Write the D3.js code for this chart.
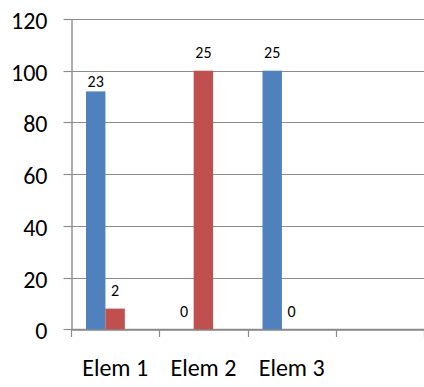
<!DOCTYPE html>
<html>
<head>
<meta charset="utf-8">
<script src="https://cdn.jsdelivr.net/npm/d3@7"></script>
<style>
  html, body { margin: 0; padding: 0; background: #fff; }
  svg { display: block; font-family: Carlito, Calibri, Lato, sans-serif; }
</style>
</head>
<body>
<svg id="chart" width="424" height="387"></svg>
<script>
// Categories (the fourth slot is left empty on purpose)
const categories = ["Elem 1", "Elem 2", "Elem 3", ""];
// Series: bar heights in percent and the counts shown above the bars
const seriesNames = ["S1", "S2", "S3"];
const s1Percent = [92, 0, 100];
const s2Percent = [8, 100, 0];
const s1Counts = [23, 0, 25];
const s2Counts = [2, 25, 0];
const yTicks = [0, 20, 40, 60, 80, 100, 120];

const colors = { S1: "#4F81BD", S2: "#C0504D", S3: "#9BBB59" };
const gridColor = "#8c8c8c";

const svg = d3.select("#chart");
const plotLeft = 71, plotRight = 424, plotTop = 19, plotBottom = 329.3;

const y = d3.scaleLinear().domain([0, 120]).range([plotBottom, plotTop]);
const x = d3.scaleBand().domain(categories).range([plotLeft, plotRight]).padding(0);
const step = x.bandwidth();
const gap = step * 0.17;
const x1 = d3.scaleBand().domain(seriesNames).range([gap, step - gap]).padding(0);

// Horizontal gridlines
svg.append("g").selectAll("line").data(yTicks).join("line")
  .attr("x1", plotLeft).attr("x2", plotRight)
  .attr("y1", d => Math.round(y(d)) + 0.5).attr("y2", d => Math.round(y(d)) + 0.5)
  .attr("stroke", gridColor).attr("stroke-width", d => (d === 0 ? 1.6 : 1));

// Y axis with tick labels
const yAxis = svg.append("g").attr("transform", `translate(${plotLeft + 0.5},0)`)
  .call(d3.axisLeft(y).tickValues(yTicks).tickSize(8).tickSizeOuter(0).tickPadding(16));
yAxis.select(".domain").attr("stroke", gridColor).attr("stroke-width", 1.4);
yAxis.selectAll(".tick line").attr("stroke", gridColor).attr("stroke-width", 1.2);
yAxis.selectAll(".tick").attr("transform", d => `translate(0,${Math.round(y(d)) + 0.5})`);
yAxis.selectAll(".tick text").attr("font-size", 24).attr("fill", "#000")
  .attr("font-family", "Carlito, Calibri, Lato, sans-serif").attr("dy", "0.4em");

// X axis: baseline, boundary ticks and centred category labels
const xAxis = svg.append("g").attr("transform", `translate(0,${Math.round(plotBottom) + 0.5})`)
  .call(d3.axisBottom(x).tickSize(0).tickPadding(29).tickSizeOuter(0));
xAxis.select(".domain").attr("stroke", gridColor).attr("stroke-width", 1.6);
xAxis.selectAll(".tick text").attr("font-size", 24).attr("fill", "#000")
  .attr("font-family", "Carlito, Calibri, Lato, sans-serif");
svg.append("g").selectAll("line").data(categories.concat(["end"])).join("line")
  .attr("x1", (d, i) => Math.round(plotLeft + i * step) + 0.5)
  .attr("x2", (d, i) => Math.round(plotLeft + i * step) + 0.5)
  .attr("y1", Math.round(plotBottom)).attr("y2", Math.round(plotBottom) + 8)
  .attr("stroke", gridColor).attr("stroke-width", 1.2);

// Bars
const rows = categories.slice(0, 3).map((c, i) => ({
  cat: c,
  vals: [
    { key: "S1", pct: s1Percent[i], count: s1Counts[i] },
    { key: "S2", pct: s2Percent[i], count: s2Counts[i] }
  ]
}));

const groups = svg.append("g").selectAll("g").data(rows).join("g")
  .attr("transform", d => `translate(${x(d.cat)},0)`);

groups.selectAll("rect").data(d => d.vals).join("rect")
  .attr("x", d => x1(d.key))
  .attr("width", x1.bandwidth())
  .attr("y", d => y(d.pct))
  .attr("height", d => y(0) - y(d.pct))
  .attr("fill", d => colors[d.key]);

// Count labels above each bar (the tall 23 label sits closer to its bar)
const labelGap = d => (d.count === 23 ? 4 : 12.5);
groups.selectAll("text").data(d => d.vals).join("text")
  .attr("x", d => x1(d.key) + x1.bandwidth() / 2)
  .attr("y", d => y(d.pct) - labelGap(d))
  .attr("text-anchor", "middle")
  .attr("font-size", 16)
  .attr("fill", "#000")
  .text(d => d.count);
</script>
</body>
</html>
